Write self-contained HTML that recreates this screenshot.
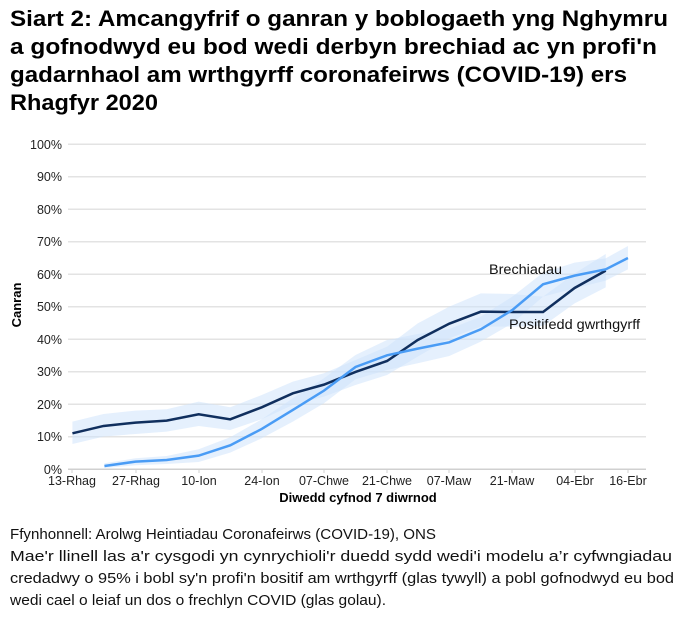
<!DOCTYPE html>
<html><head><meta charset="utf-8"><style>
html,body{margin:0;padding:0;background:#fff;width:686px;height:619px;overflow:hidden}
svg{display:block;font-family:"Liberation Sans",Arial,sans-serif}
</style></head><body>
<svg width="686" height="619" viewBox="0 0 686 619">
<g font-weight="bold" font-size="22" fill="#000">
<text x="10" y="26" textLength="658" lengthAdjust="spacingAndGlyphs">Siart 2: Amcangyfrif o ganran y boblogaeth yng Nghymru</text>
<text x="10" y="54" textLength="647" lengthAdjust="spacingAndGlyphs">a gofnodwyd eu bod wedi derbyn brechiad ac yn profi'n</text>
<text x="10" y="82" textLength="617" lengthAdjust="spacingAndGlyphs">gadarnhaol am wrthgyrff coronafeirws (COVID-19) ers</text>
<text x="10" y="110" textLength="148" lengthAdjust="spacingAndGlyphs">Rhagfyr 2020</text>
</g>
<g stroke="#e3e3e3" stroke-width="1.5">
<line x1="68" x2="646" y1="144.3" y2="144.3"/><line x1="68" x2="646" y1="176.8" y2="176.8"/>
<line x1="68" x2="646" y1="209.3" y2="209.3"/><line x1="68" x2="646" y1="241.8" y2="241.8"/>
<line x1="68" x2="646" y1="274.3" y2="274.3"/><line x1="68" x2="646" y1="306.8" y2="306.8"/>
<line x1="68" x2="646" y1="339.3" y2="339.3"/><line x1="68" x2="646" y1="371.8" y2="371.8"/>
<line x1="68" x2="646" y1="404.3" y2="404.3"/><line x1="68" x2="646" y1="436.8" y2="436.8"/>
</g>
<line x1="68" x2="646" y1="469.3" y2="469.3" stroke="#d0d0d0" stroke-width="1.5"/>
<g stroke="#d0d0d0" stroke-width="1">
<line x1="72" x2="72" y1="469" y2="473"/><line x1="136" x2="136" y1="469" y2="473"/><line x1="199" x2="199" y1="469" y2="473"/>
<line x1="262" x2="262" y1="469" y2="473"/><line x1="324" x2="324" y1="469" y2="473"/><line x1="387" x2="387" y1="469" y2="473"/>
<line x1="449" x2="449" y1="469" y2="473"/><line x1="512" x2="512" y1="469" y2="473"/><line x1="575" x2="575" y1="469" y2="473"/>
<line x1="628" x2="628" y1="469" y2="473"/>
</g>
<g font-size="12.5" fill="#222" text-anchor="end">
<text x="62" y="149">100%</text><text x="62" y="181">90%</text><text x="62" y="214">80%</text>
<text x="62" y="246">70%</text><text x="62" y="279">60%</text><text x="62" y="311">50%</text>
<text x="62" y="344">40%</text><text x="62" y="376">30%</text><text x="62" y="409">20%</text>
<text x="62" y="441">10%</text><text x="62" y="474">0%</text>
</g>
<g font-size="12.5" fill="#222" text-anchor="middle">
<text x="72" y="485">13-Rhag</text><text x="136" y="485">27-Rhag</text><text x="199" y="485">10-Ion</text>
<text x="262" y="485">24-Ion</text><text x="324" y="485">07-Chwe</text><text x="387" y="485">21-Chwe</text>
<text x="449" y="485">07-Maw</text><text x="512" y="485">21-Maw</text><text x="575" y="485">04-Ebr</text>
<text x="628" y="485">16-Ebr</text>
</g>
<text x="358" y="502" font-size="13" font-weight="bold" text-anchor="middle">Diwedd cyfnod 7 diwrnod</text>
<text transform="translate(21,305) rotate(-90)" font-size="13" font-weight="bold" text-anchor="middle">Canran</text>
<g transform="translate(0,130) scale(0.4444,0.3333)">
<polygon fill="#cfe3fb" fill-opacity="0.55" points="163,875 233,852 305,842 375,838 447,815 518,832 589,795 659,755 729,730 800,690 871,650 940,580 1011,530 1082,490 1153,492 1222,500 1293,430 1363,372 1363,472 1293,520 1222,588 1153,590 1082,590 1011,625 940,680 871,735 800,765 729,800 659,825 589,868 518,900 447,888 375,905 305,912 233,920 163,942"/>
<polygon fill="#cfe3fb" fill-opacity="0.55" points="235,1000 305,985 375,978 447,958 518,922 589,868 659,805 729,745 800,675 871,630 940,612 1011,597 1082,560 1153,500 1222,428 1293,398 1363,385 1413,348 1413,418 1363,452 1293,475 1222,500 1153,580 1082,635 1011,678 940,700 871,720 800,748 729,820 659,875 589,925 518,968 447,996 375,1002 305,1006 235,1014"/>
<polyline fill="none" stroke="#102f5e" stroke-width="2.5" vector-effect="non-scaling-stroke" points="163,910 233,888 305,878 375,872 447,853 518,868 589,832 659,790 729,764 800,726 871,693 940,630 1011,581 1082,545 1153,546 1222,546 1293,474 1363,422"/>
<polyline fill="none" stroke="#4a9cf5" stroke-width="2.5" vector-effect="non-scaling-stroke" points="235,1008 305,995 375,990 447,977 518,946 589,897 659,840 729,782 800,711 871,676 940,656 1011,637 1082,598 1153,540 1222,463 1293,437 1363,418 1413,384"/>
</g>
<text x="489" y="274" font-size="13.5" fill="#111" textLength="73" lengthAdjust="spacingAndGlyphs">Brechiadau</text>
<text x="509" y="329" font-size="13.5" fill="#111" textLength="131" lengthAdjust="spacingAndGlyphs">Positifedd gwrthgyrff</text>
<g font-size="15" fill="#111">
<text x="10" y="539" textLength="426" lengthAdjust="spacingAndGlyphs">Ffynhonnell: Arolwg Heintiadau Coronafeirws (COVID-19), ONS</text>
<text x="10" y="561" textLength="662" lengthAdjust="spacingAndGlyphs">Mae'r llinell las a'r cysgodi yn cynrychioli'r duedd sydd wedi'i modelu a’r cyfwngiadau</text>
<text x="10" y="583" textLength="664" lengthAdjust="spacingAndGlyphs">credadwy o 95% i bobl sy'n profi'n bositif am wrthgyrff (glas tywyll) a pobl gofnodwyd eu bod</text>
<text x="10" y="605" textLength="376" lengthAdjust="spacingAndGlyphs">wedi cael o leiaf un dos o frechlyn COVID (glas golau).</text>
</g>
</svg>
</body></html>
